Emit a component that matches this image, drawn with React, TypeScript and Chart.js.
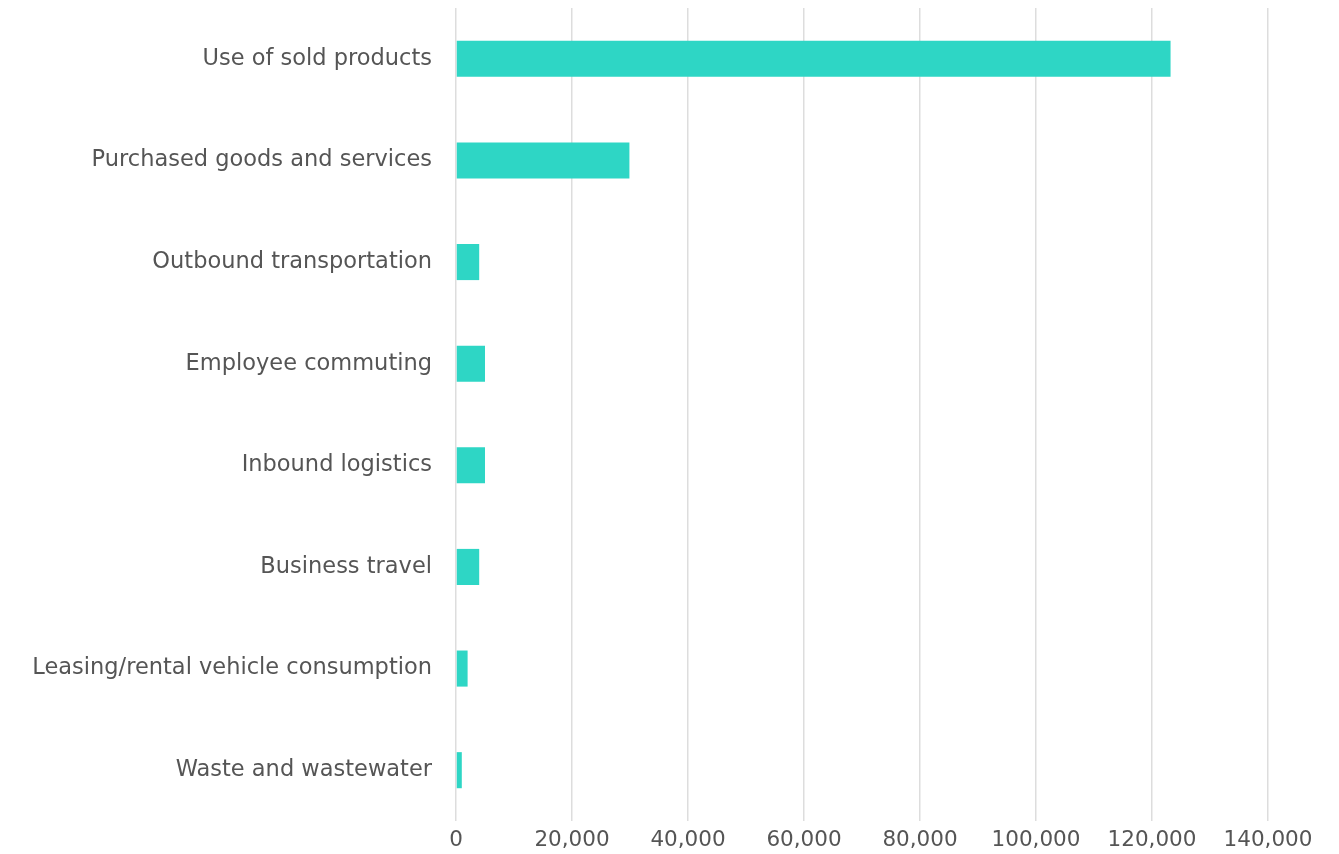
import React, { useEffect, useRef } from "react";
import { Chart, registerables } from "chart.js";

Chart.register(...registerables);

const categories = [
  "Use of sold products",
  "Purchased goods and services",
  "Outbound transportation",
  "Employee commuting",
  "Inbound logistics",
  "Business travel",
  "Leasing/rental vehicle consumption",
  "Waste and wastewater",
];

const emissions = [123200, 29900, 4000, 5000, 5000, 4000, 2000, 1000];

const xMin = 0;
const xMax = 140000;
const xStep = 20000;

export default function App() {
  const ref = useRef<HTMLCanvasElement | null>(null);

  useEffect(() => {
    if (!ref.current) return;
    const chart = new Chart(ref.current, {
      type: "bar",
      data: {
        labels: categories,
        datasets: [
          {
            data: emissions,
            backgroundColor: "#2ED6C5",
            borderWidth: 0,
            categoryPercentage: 1,
            barPercentage: 0.355,
          },
        ],
      },
      options: {
        indexAxis: "y",
        animation: false,
        responsive: true,
        maintainAspectRatio: false,
        layout: { padding: { top: 8, right: 71, bottom: 0, left: 0 } },
        plugins: {
          legend: { display: false },
          tooltip: { enabled: false },
        },
        scales: {
          x: {
            min: xMin,
            max: xMax,
            ticks: {
              stepSize: xStep,
              color: "#555555",
              font: { family: "DejaVu Sans", size: 21.5 },
              padding: 7,
              maxRotation: 0,
              callback: (v: any) => Number(v).toLocaleString("en-US"),
            },
            grid: { color: "#DDDDDD", lineWidth: 1.5, drawTicks: false },
            border: { display: false },
            afterFit: (scale: any) => {
              scale.height = 33;
            },
          },
          y: {
            ticks: {
              color: "#555555",
              font: { family: "DejaVu Sans", size: 22.5, lineHeight: 0.6 },
              padding: 0,
            },
            grid: {
              display: true,
              drawOnChartArea: false,
              drawTicks: true,
              tickLength: 24,
              tickColor: "rgba(0,0,0,0)",
            },
            border: { display: false },
            afterFit: (scale: any) => {
              scale.width = 456;
            },
          },
        },
      },
    });
    return () => chart.destroy();
  }, []);

  return (
    <div style={{ position: "fixed", left: 0, top: 0, width: 1339, height: 854, background: "#fff" }}>
      <canvas ref={ref} />
    </div>
  );
}
